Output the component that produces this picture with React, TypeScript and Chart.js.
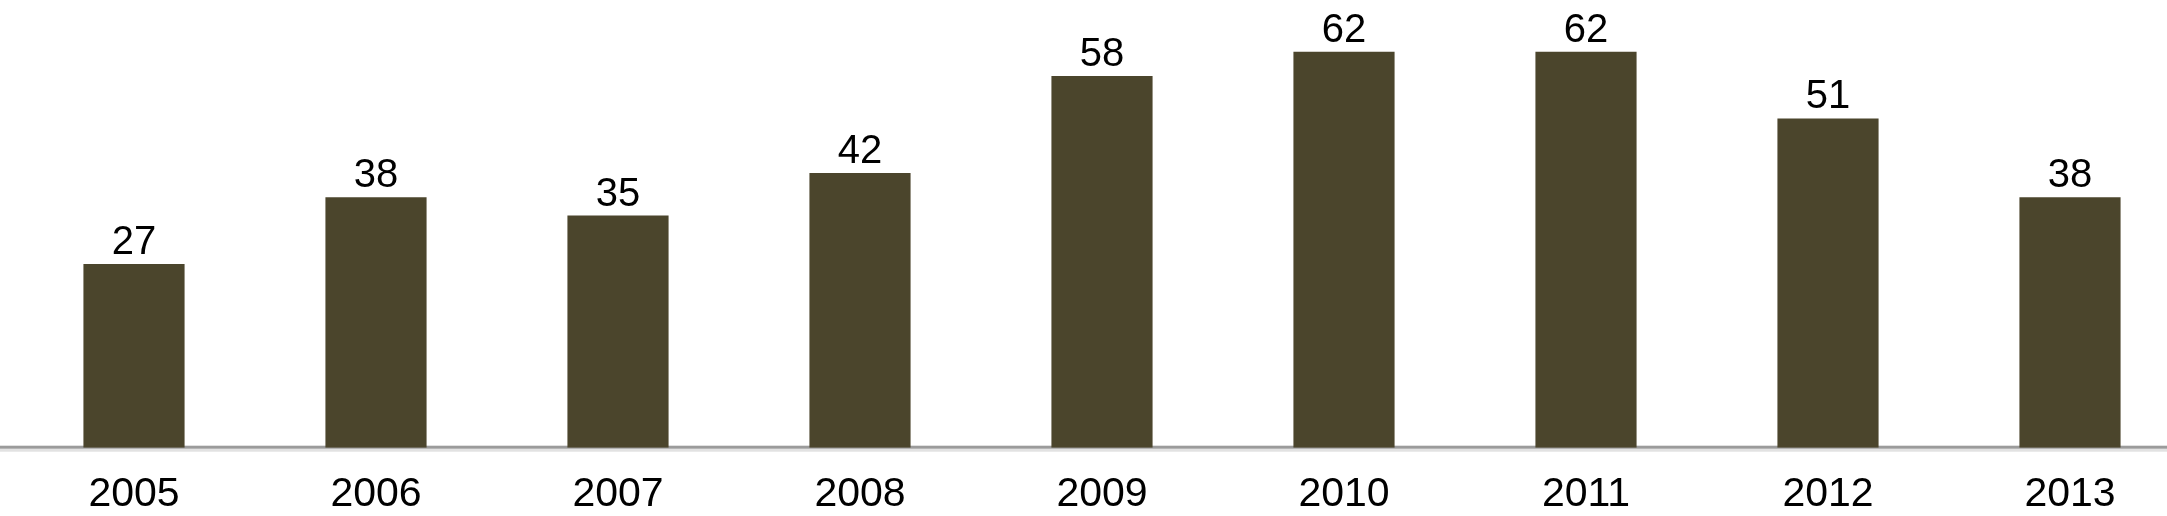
import React, { useEffect, useRef } from "react";
import { Chart, registerables } from "chart.js";

Chart.register(...registerables);

const categories = ["2005", "2006", "2007", "2008", "2009", "2010", "2011", "2012", "2013"];
const values = [27, 38, 35, 42, 58, 62, 62, 51, 38];
const yMin = -3.28;
const yMax = 70.53;

const BAR_COLOR = "#4b452c";
const FONT = "'Liberation Sans', Arial, Helvetica, sans-serif";

const baselinePlugin = {
  id: "baselinePlugin",
  beforeDatasetsDraw(chart: any) {
    const { ctx } = chart;
    const y = chart.scales.y.getPixelForValue(yMin);
    ctx.save();
    ctx.fillStyle = "#e2e2e2";
    ctx.fillRect(0, y + 1, chart.width, 3);
    ctx.fillStyle = "#9b9b9b";
    ctx.fillRect(0, y - 2, chart.width, 3);
    ctx.restore();
  },
};

const valueLabelPlugin = {
  id: "valueLabelPlugin",
  afterDatasetsDraw(chart: any) {
    const { ctx } = chart;
    const meta = chart.getDatasetMeta(0);
    ctx.save();
    ctx.font = `40px ${FONT}`;
    ctx.fillStyle = "#000000";
    ctx.textAlign = "center";
    ctx.textBaseline = "alphabetic";
    meta.data.forEach((bar: any, i: number) => {
      ctx.fillText(String(values[i]), bar.x, bar.y - 10);
    });
    ctx.restore();
  },
};

export default function App() {
  const canvasRef = useRef<HTMLCanvasElement | null>(null);

  useEffect(() => {
    if (!canvasRef.current) return;
    const chart = new Chart(canvasRef.current, {
      type: "bar",
      data: {
        labels: categories,
        datasets: [
          {
            data: values,
            base: yMin,
            backgroundColor: BAR_COLOR,
            borderWidth: 0,
            categoryPercentage: 0.418,
            barPercentage: 1,
          } as any,
        ],
      },
      options: {
        animation: false,
        responsive: true,
        maintainAspectRatio: false,
        layout: { padding: { left: 13, right: 0, top: 0, bottom: 0 } },
        plugins: {
          legend: { display: false },
          tooltip: { enabled: false },
        },
        scales: {
          x: {
            grid: { display: false, drawTicks: false },
            border: { display: false },
            ticks: {
              color: "#000000",
              font: { family: FONT, size: 41 },
              padding: 22,
              maxRotation: 0,
              autoSkip: false,
            },
            afterFit(scale: any) {
              scale.height = 68.3;
            },
          },
          y: {
            display: false,
            min: yMin,
            max: yMax,
          },
        },
      },
      plugins: [baselinePlugin, valueLabelPlugin],
    });
    return () => chart.destroy();
  }, []);

  return (
    <div
      style={{
        position: "fixed",
        left: 0,
        top: 0,
        width: 2167,
        height: 516,
        overflow: "hidden",
        background: "#ffffff",
      }}
    >
      <div style={{ position: "relative", width: 2191, height: 516 }}>
        <canvas ref={canvasRef} />
      </div>
    </div>
  );
}
